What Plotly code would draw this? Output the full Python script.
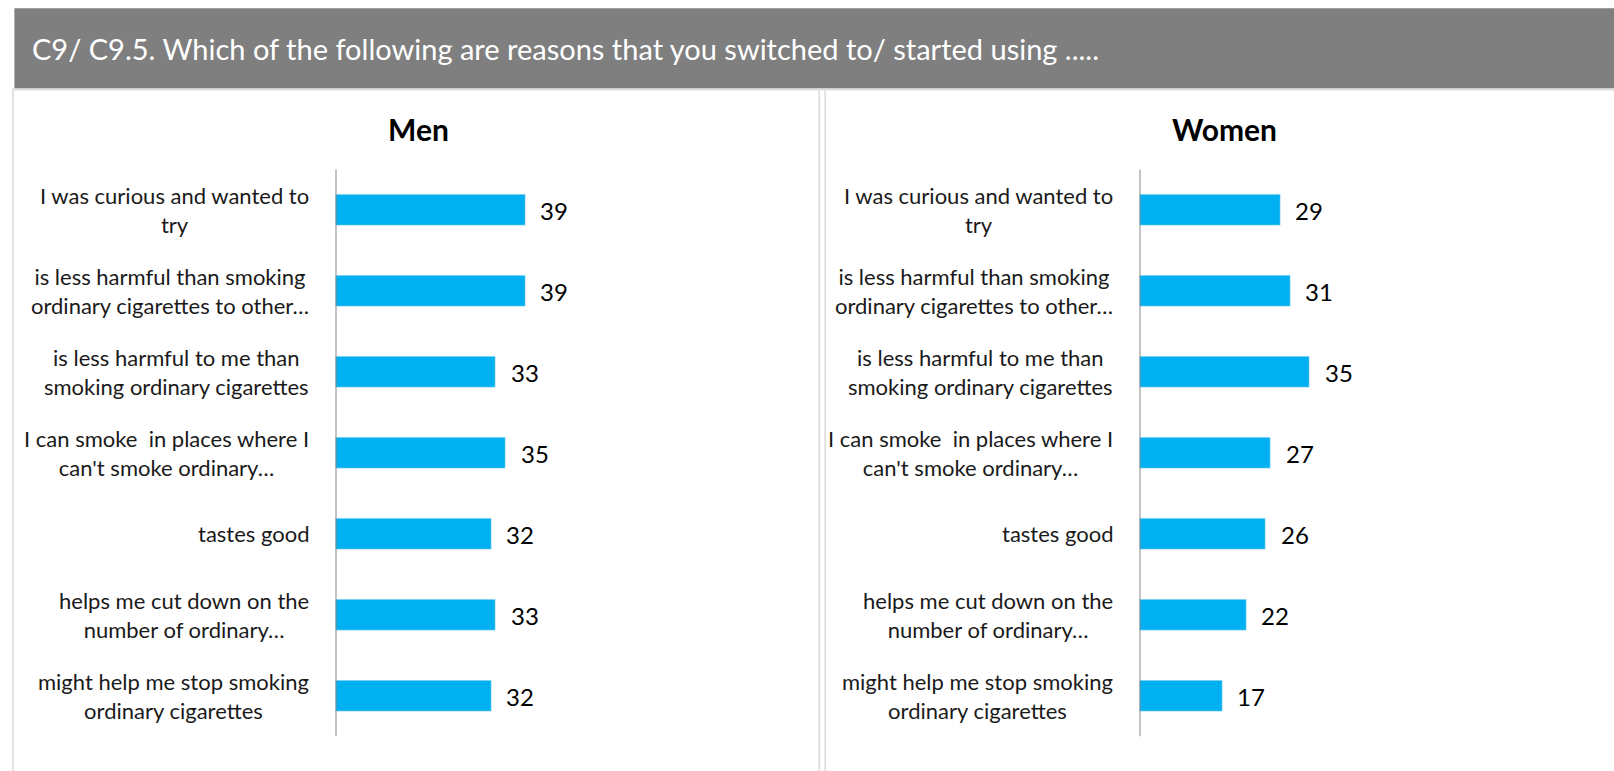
import plotly.graph_objects as go

W, H = 1614, 771

header_text = "C9/ C9.5. Which of the following are reasons that you switched to/ started using ....."
panel_titles = ["Men", "Women"]
categories = [
    "I was curious and wanted to<br>try",
    "is less harmful than smoking<br>ordinary cigarettes to other…",
    "is less harmful to me than<br>smoking ordinary cigarettes",
    "I can smoke  in places where I<br>can't smoke ordinary…",
    "tastes good",
    "helps me cut down on the<br>number of ordinary…",
    "might help me stop smoking<br>ordinary cigarettes",
]
men_values = [39, 39, 33, 35, 32, 33, 32]
women_values = [29, 31, 35, 27, 26, 22, 17]

BAR = "#00B0F0"
AXIS = "#898989"
BORDER = "#DEDEDE"
FONT = "Lato"

def px(x):
    return x / W

def py(y):
    return 1 - y / H

XMAX = 55
PPU = 4.86  # pixels per unit
men_x0 = 335.5
wom_x0 = 1139.5
y_top, y_bot = 169.5, 736.3

fig = go.Figure()
cat_ids = list(range(len(categories)))
fig.add_trace(go.Bar(x=men_values, y=cat_ids, orientation="h", marker_color=BAR,
                     width=0.39, xaxis="x", yaxis="y", hoverinfo="skip", showlegend=False))
fig.add_trace(go.Bar(x=women_values, y=cat_ids, orientation="h", marker_color=BAR,
                     width=0.39, xaxis="x2", yaxis="y2", hoverinfo="skip", showlegend=False))

ydom = [py(y_bot), py(y_top)]
yax = dict(domain=ydom, range=[len(categories) - 0.5, -0.5], showticklabels=False,
           showgrid=False, zeroline=False, showline=False, ticks="")
fig.update_layout(
    width=W, height=H,
    margin=dict(l=0, r=0, t=0, b=0),
    paper_bgcolor="white", plot_bgcolor="rgba(0,0,0,0)",
    font=dict(family=FONT, color="#1a1a1a"),
    xaxis=dict(domain=[px(men_x0), px(men_x0 + PPU * XMAX)], range=[0, XMAX], visible=False),
    xaxis2=dict(domain=[px(wom_x0), px(wom_x0 + PPU * XMAX)], range=[0, XMAX], visible=False),
    yaxis=dict(anchor="x", **yax),
    yaxis2=dict(anchor="x2", **yax),
    bargap=0,
)

shapes = []
# header band
shapes.append(dict(type="rect", xref="paper", yref="paper", x0=px(14.4), x1=1, y0=py(88.5), y1=py(8.2),
                   fillcolor="#7F7F7F", line=dict(width=0), layer="below"))
# light line under header
shapes.append(dict(type="rect", xref="paper", yref="paper", x0=px(12), x1=1, y0=py(90.5), y1=py(88.5),
                   fillcolor=BORDER, line=dict(width=0), layer="below"))
# panel borders
for xl in (12.0, 818.3, 824.3):
    shapes.append(dict(type="rect", xref="paper", yref="paper", x0=px(xl), x1=px(xl + 1.8),
                       y0=0, y1=py(88.5), fillcolor=BORDER, line=dict(width=0), layer="below"))
# axis lines
for xa in ("x", "x2"):
    ya = "y" if xa == "x" else "y2"
    shapes.append(dict(type="line", xref=xa, yref=f"{ya} domain", x0=0, x1=0, y0=0, y1=1,
                       line=dict(color=AXIS, width=2)))
fig.update_layout(shapes=shapes)

ann = []
ann.append(dict(text=header_text, xref="paper", yref="paper", x=px(30), y=py(48),
                xanchor="left", yanchor="middle", showarrow=False,
                font=dict(family=FONT, size=29, color="white")))
for title, cx in zip(panel_titles, (418, 1224)):
    ann.append(dict(text=f"<b>{title}</b>", xref="paper", yref="paper", x=px(cx), y=py(129),
                    xanchor="center", yanchor="middle", showarrow=False,
                    font=dict(family=FONT, size=30, color="black")))
for xa, ya, vals in (("x", "y", men_values), ("x2", "y2", women_values)):
    for i, (lab, v) in enumerate(zip(categories, vals)):
        ann.append(dict(text=lab, xref=f"{xa} domain", yref=ya, x=0, y=i, xshift=-25,
                        xanchor="right", yanchor="middle", align="center", showarrow=False,
                        font=dict(family=FONT, size=22, color="#1a1a1a")))
        ann.append(dict(text=str(v), xref=xa, yref=ya, x=v, y=i, xshift=13, yshift=-1,
                        xanchor="left", yanchor="middle", showarrow=False,
                        font=dict(family=FONT, size=24, color="black")))
fig.update_layout(annotations=ann)

fig.write_html("out.html", config={"displayModeBar": False},
               post_script="document.body.style.margin='0';document.body.style.overflow='hidden';")
